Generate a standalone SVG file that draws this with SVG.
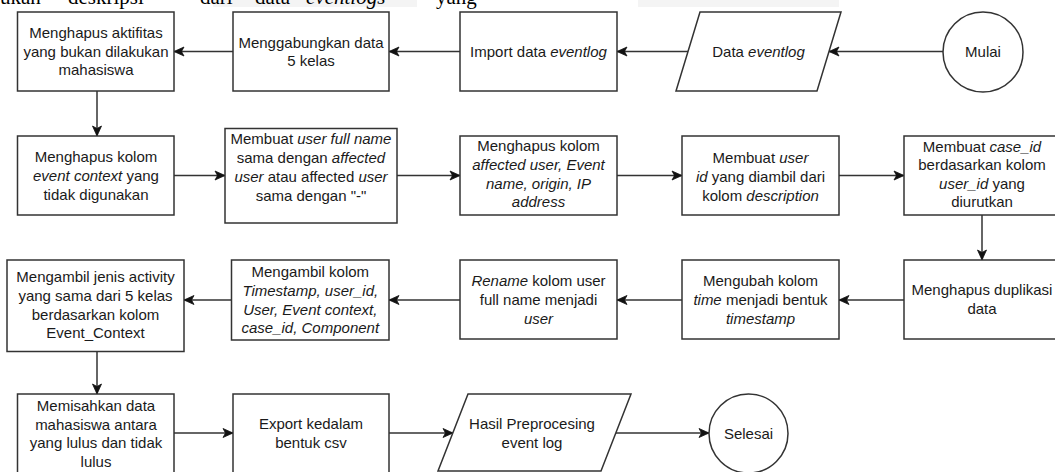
<svg xmlns="http://www.w3.org/2000/svg" width="1055" height="472" viewBox="0 0 1055 472">
<style>
.box{fill:#fff;stroke:#333;stroke-width:1.5}
.t{font-family:"Liberation Sans",Arial,sans-serif;font-size:15px;fill:#1a1a1a;text-anchor:middle}
.i{font-style:italic}
.conn{stroke:#333;stroke-width:1.5;fill:none;marker-end:url(#arr)}
.doc{font-family:"Liberation Serif","Times New Roman",serif;font-size:21px;fill:#000}
</style>
<defs>
<marker id="arr" markerUnits="userSpaceOnUse" markerWidth="12" markerHeight="12" viewBox="0 0 12 12" refX="11" refY="6" orient="auto">
<path d="M1,1.5 L11,6 L1,10.5 L3.5,6 Z" fill="#111" stroke="#111" stroke-width="0.8"/>
</marker>
</defs>
<rect width="1055" height="472" fill="#fff"/>
<g id="doc-fragment">
<rect x="213" y="0" width="204" height="7" fill="#f4f4f4"/>
<rect x="638" y="0" width="201" height="7" fill="#f4f4f4"/>
<text class="doc" y="4"><tspan x="0">ukan</tspan><tspan x="68">deskripsi</tspan><tspan x="200">dari</tspan><tspan x="255">data</tspan><tspan x="306" font-style="italic">eventlogs</tspan><tspan x="436">yang</tspan></text>
</g>
<g id="connectors">
<line class="conn" x1="943" y1="51.5" x2="829" y2="51.5"/>
<line class="conn" x1="688" y1="51.5" x2="617" y2="51.5"/>
<line class="conn" x1="460" y1="51.5" x2="389" y2="51.5"/>
<line class="conn" x1="233" y1="51.5" x2="174" y2="51.5"/>
<line class="conn" x1="97" y1="91" x2="97" y2="136"/>
<line class="conn" x1="174" y1="175.5" x2="225" y2="175.5"/>
<line class="conn" x1="397" y1="175.5" x2="460" y2="175.5"/>
<line class="conn" x1="617" y1="175.5" x2="682" y2="175.5"/>
<line class="conn" x1="839" y1="175.5" x2="904" y2="175.5"/>
<line class="conn" x1="982" y1="215" x2="982" y2="260"/>
<line class="conn" x1="904" y1="300" x2="839" y2="300"/>
<line class="conn" x1="682" y1="300" x2="617" y2="300"/>
<line class="conn" x1="460" y1="300" x2="389" y2="300"/>
<line class="conn" x1="231.5" y1="300" x2="184" y2="300"/>
<line class="conn" x1="97" y1="351.5" x2="97" y2="394"/>
<line class="conn" x1="174" y1="433" x2="233" y2="433"/>
<line class="conn" x1="389" y1="433" x2="453" y2="433"/>
<line class="conn" x1="616" y1="433" x2="709" y2="433"/>
</g>
<g id="n-mulai">
<circle class="box" cx="983" cy="52" r="40"/>
<text class="t" x="983" y="57">Mulai</text>
</g>
<g id="n-data-eventlog">
<polygon class="box" points="700,12 841,12 817,91 676,91"/>
<text class="t" x="758.5" y="57">Data <tspan class="i">eventlog</tspan></text>
</g>
<g id="n-import">
<rect class="box" x="460" y="12" width="157" height="79"/>
<text class="t" x="538.5" y="57">Import data <tspan class="i">eventlog</tspan></text>
</g>
<g id="n-gabung">
<rect class="box" x="233" y="12" width="156" height="79"/>
<text class="t" x="311"><tspan x="311" y="47.5">Menggabungkan data</tspan><tspan x="311" y="66">5 kelas</tspan></text>
</g>
<g id="n-hapus-aktifitas">
<rect class="box" x="17.5" y="12" width="156.5" height="79"/>
<text class="t"><tspan x="96" y="38.3">Menghapus aktifitas</tspan><tspan x="96" y="56.8">yang bukan dilakukan</tspan><tspan x="96" y="75.3">mahasiswa</tspan></text>
</g>
<g id="n-hapus-event-context">
<rect class="box" x="17.5" y="136" width="156.5" height="79"/>
<text class="t"><tspan x="96" y="162.3">Menghapus kolom</tspan><tspan x="96" y="181"><tspan class="i">event context</tspan> yang</tspan><tspan x="96" y="199.6">tidak digunakan</tspan></text>
</g>
<g id="n-user-full-name">
<rect class="box" x="225" y="128.5" width="172" height="94.5"/>
<text class="t"><tspan x="311" y="144">Membuat <tspan class="i">user full name</tspan></tspan><tspan x="311" y="162.8">sama dengan <tspan class="i">affected</tspan></tspan><tspan x="311" y="181.6"><tspan class="i">user</tspan> atau affected <tspan class="i">user</tspan></tspan><tspan x="311" y="200.6">sama dengan "-"</tspan></text>
</g>
<g id="n-hapus-affected">
<rect class="box" x="460" y="136" width="157" height="79"/>
<text class="t"><tspan x="538.5" y="151">Menghapus kolom</tspan><tspan x="538.5" y="169.8" class="i">affected user, Event</tspan><tspan x="538.5" y="188.6" class="i">name, origin, IP</tspan><tspan x="538.5" y="207.4" class="i">address</tspan></text>
</g>
<g id="n-user-id">
<rect class="box" x="682" y="136" width="157" height="79"/>
<text class="t"><tspan x="760.5" y="163">Membuat <tspan class="i">user</tspan></tspan><tspan x="760.5" y="181.8"><tspan class="i">id</tspan> yang diambil dari</tspan><tspan x="760.5" y="200.6">kolom <tspan class="i">description</tspan></tspan></text>
</g>
<g id="n-case-id">
<rect class="box" x="904" y="136" width="156" height="79"/>
<text class="t"><tspan x="982" y="152">Membuat <tspan class="i">case_id</tspan></tspan><tspan x="982" y="170.3">berdasarkan kolom</tspan><tspan x="982" y="188.6"><tspan class="i">user_id</tspan> yang</tspan><tspan x="982" y="207">diurutkan</tspan></text>
</g>
<g id="n-duplikasi">
<rect class="box" x="904" y="260" width="156" height="79"/>
<text class="t"><tspan x="982" y="295.3">Menghapus duplikasi</tspan><tspan x="982" y="313.8">data</tspan></text>
</g>
<g id="n-timestamp">
<rect class="box" x="682" y="260" width="157" height="79"/>
<text class="t"><tspan x="760.5" y="286.3">Mengubah kolom</tspan><tspan x="760.5" y="305"><tspan class="i">time</tspan> menjadi bentuk</tspan><tspan x="760.5" y="323.8" class="i">timestamp</tspan></text>
</g>
<g id="n-rename">
<rect class="box" x="460" y="260" width="157" height="79"/>
<text class="t"><tspan x="538.5" y="286.3"><tspan class="i">Rename</tspan> kolom user</tspan><tspan x="538.5" y="305">full name menjadi</tspan><tspan x="538.5" y="323.8" class="i">user</tspan></text>
</g>
<g id="n-ambil-kolom">
<rect class="box" x="231.5" y="260" width="157.5" height="80"/>
<text class="t"><tspan x="310.3" y="277.3">Mengambil kolom</tspan><tspan x="310.3" y="296" class="i">Timestamp, user_id,</tspan><tspan x="310.3" y="314.6" class="i">User, Event context,</tspan><tspan x="310.3" y="333.3" class="i">case_id, Component</tspan></text>
</g>
<g id="n-jenis-activity">
<rect class="box" x="7" y="260" width="177" height="91.5"/>
<text class="t"><tspan x="95.5" y="282.3">Mengambil jenis activity</tspan><tspan x="95.5" y="301">yang sama dari 5 kelas</tspan><tspan x="95.5" y="319.7">berdasarkan kolom</tspan><tspan x="95.5" y="338.3">Event_Context</tspan></text>
</g>
<g id="n-pisah">
<rect class="box" x="17.5" y="394" width="156.5" height="79"/>
<text class="t"><tspan x="96" y="411">Memisahkan data</tspan><tspan x="96" y="429.5">mahasiswa antara</tspan><tspan x="96" y="448.1">yang lulus dan tidak</tspan><tspan x="96" y="466.7">lulus</tspan></text>
</g>
<g id="n-export">
<rect class="box" x="233" y="394" width="156" height="79"/>
<text class="t"><tspan x="311" y="429.3">Export kedalam</tspan><tspan x="311" y="448">bentuk csv</tspan></text>
</g>
<g id="n-hasil">
<polygon class="box" points="468,394 631,394 601,471 438,471"/>
<text class="t"><tspan x="532" y="429.3">Hasil Preprocesing</tspan><tspan x="532" y="448">event log</tspan></text>
</g>
<g id="n-selesai">
<circle class="box" cx="748.5" cy="433.5" r="39.5"/>
<text class="t" x="748.5" y="438.8">Selesai</text>
</g>
</svg>
